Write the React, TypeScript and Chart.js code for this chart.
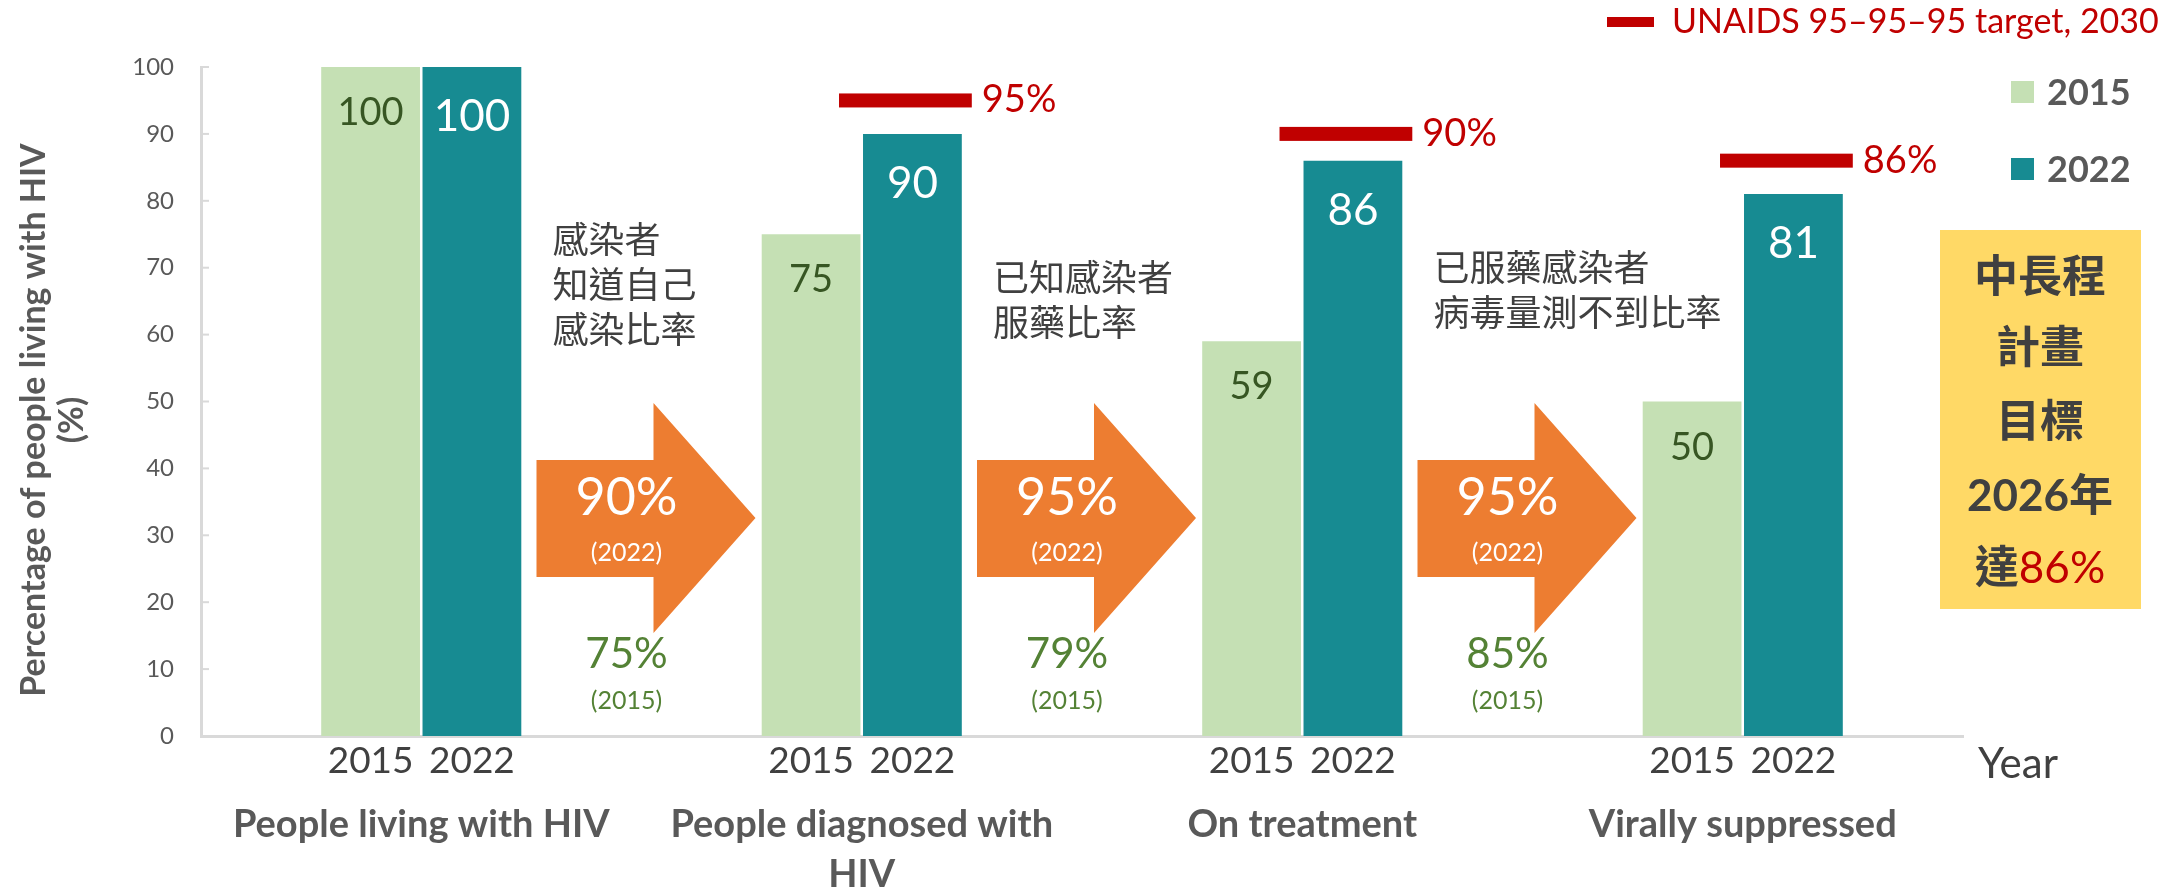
import React, { useEffect, useRef } from "react";
import { Chart, registerables } from "chart.js";

Chart.register(...registerables);

// ---------- data ----------
const categories: string[][] = [
  ["People living with HIV"],
  ["People diagnosed with", "HIV"],
  ["On treatment"],
  ["Virally suppressed"],
];
const years = ["2015", "2022"];
const values2015 = [100, 75, 59, 50];
const values2022 = [100, 90, 86, 81];
const targets2030: (number | null)[] = [null, 95, 90, 86];
const targetLegend = "UNAIDS 95–95–95 target, 2030";
const stepRates2022 = ["90%", "95%", "95%"];
const stepRates2015 = ["75%", "79%", "85%"];
const stepYearNew = "(2022)";
const stepYearOld = "(2015)";
const stepNotes: string[][] = [
  ["感染者", "知道自己", "感染比率"],
  ["已知感染者", "服藥比率"],
  ["已服藥感染者", "病毒量測不到比率"],
];
const goalLines = ["中長程", "計畫", "目標", "2026年"];
const goalLastPrefix = "達";
const goalLastValue = "86%";
const yTitle = ["Percentage of people living with HIV", "(%)"];
const xTitle = "Year";

// ---------- styles ----------
const C2015 = "#C5E0B4";
const C2022 = "#178B92";
const RED = "#C00000";
const ORANGE = "#ED7D31";
const GREEN = "#548235";
const DKGREEN = "#375623";
const DARK = "#404040";
const GRAY = "#595959";
const AXIS = "#D9D9D9";
const LAT = "Lato, 'Noto Sans CJK TC', sans-serif";
const CJK = "'Noto Sans CJK TC', Lato, sans-serif";

function t(
  ctx: CanvasRenderingContext2D,
  s: string,
  x: number,
  y: number,
  font: string,
  color: string,
  align: CanvasTextAlign = "center",
  baseline: CanvasTextBaseline = "alphabetic"
) {
  ctx.font = font;
  ctx.fillStyle = color;
  ctx.textAlign = align;
  ctx.textBaseline = baseline;
  ctx.fillText(s, x, y);
}

const overlay = {
  id: "overlay",
  afterDraw(chart: any) {
    const ctx: CanvasRenderingContext2D = chart.ctx;
    const xs = chart.scales.x;
    const ys = chart.scales.y;
    const area = chart.chartArea;
    ctx.save();

    // inside tick marks on y axis
    ctx.strokeStyle = AXIS;
    ctx.lineWidth = 2;
    ys.ticks.forEach((tk: any) => {
      const py = ys.getPixelForValue(tk.value);
      ctx.beginPath();
      ctx.moveTo(area.left, py);
      ctx.lineTo(area.left + 8, py);
      ctx.stroke();
    });

    // y title (rotated)
    const yMid = 420;
    [45, 83].forEach((bx, k) => {
      ctx.save();
      ctx.translate(bx, yMid);
      ctx.rotate(-Math.PI / 2);
      t(ctx, yTitle[k], 0, 0, `bold 34px ${LAT}`, GRAY);
      ctx.restore();
    });

    const m0 = chart.getDatasetMeta(0);
    const m1 = chart.getDatasetMeta(1);

    // bar value labels
    m0.data.forEach((el: any, i: number) => {
      t(ctx, String(values2015[i]), el.x, el.y + 58, `38px ${LAT}`, DKGREEN);
    });
    m1.data.forEach((el: any, i: number) => {
      t(ctx, String(values2022[i]), el.x, el.y + 64, `44px ${LAT}`, "#FFFFFF");
    });

    // year labels under bars
    [m0, m1].forEach((m: any, d: number) => {
      m.data.forEach((el: any) => {
        t(ctx, years[d], el.x, area.bottom + 37, `37px ${LAT}`, DARK);
      });
    });

    // category labels
    categories.forEach((lines, i) => {
      const cx = xs.getPixelForValue(i);
      lines.forEach((ln, k) => {
        t(ctx, ln, cx, area.bottom + 101 + k * 50, `bold 38px ${LAT}`, GRAY);
      });
    });

    // x title
    t(ctx, xTitle, area.right + 15, area.bottom + 42, `42px ${LAT}`, DARK, "left");

    // target lines
    targets2030.forEach((v, i) => {
      if (v == null) return;
      const el = m1.data[i];
      const half = el.width / 2;
      const py = ys.getPixelForValue(v);
      const x1 = el.x - half - 24;
      const x2 = el.x + half + 10;
      ctx.fillStyle = RED;
      ctx.fillRect(x1, py - 7, x2 - x1, 14);
      t(ctx, `${v}%`, x2 + 10, py + 12, `38px ${LAT}`, RED, "left");
    });

    // arrows between categories
    const noteTops = [240, 278, 268];
    for (let i = 0; i < categories.length - 1; i++) {
      const b = (xs.getPixelForValue(i) + xs.getPixelForValue(i + 1)) / 2;
      ctx.fillStyle = ORANGE;
      ctx.beginPath();
      ctx.moveTo(b - 105, 460);
      ctx.lineTo(b + 12, 460);
      ctx.lineTo(b + 12, 403);
      ctx.lineTo(b + 114, 518);
      ctx.lineTo(b + 12, 633);
      ctx.lineTo(b + 12, 577);
      ctx.lineTo(b - 105, 577);
      ctx.closePath();
      ctx.fill();
      const tx = b - 15;
      t(ctx, stepRates2022[i], tx, 515, `52px ${LAT}`, "#FFFFFF");
      t(ctx, stepYearNew, tx, 561, `25px ${LAT}`, "#FFFFFF");
      t(ctx, stepRates2015[i], tx, 668, `42px ${LAT}`, GREEN);
      t(ctx, stepYearOld, tx, 709, `25px ${LAT}`, GREEN);

      // chinese notes
      stepNotes[i].forEach((ln, k) => {
        t(ctx, ln, b - 89, noteTops[i] + k * 45 + 13, `36px ${CJK}`, DARK, "left");
      });
    }

    // legend
    ctx.fillStyle = RED;
    ctx.fillRect(1607, 17, 47, 10);
    t(ctx, targetLegend, 1672, 33, `34px ${LAT}`, RED, "left");
    ctx.fillStyle = C2015;
    ctx.fillRect(2011, 81, 23, 22);
    t(ctx, years[0], 2047, 105, `bold 36px ${LAT}`, GRAY, "left");
    ctx.fillStyle = C2022;
    ctx.fillRect(2011, 158, 23, 22);
    t(ctx, years[1], 2047, 182, `bold 36px ${LAT}`, GRAY, "left");

    // yellow goal box
    ctx.fillStyle = "#FFD966";
    ctx.fillRect(1940, 230, 201, 379);
    const bx = 2040;
    const centers = [276, 347, 421, 495];
    goalLines.forEach((ln, k) => {
      t(ctx, ln, bx, centers[k] + 16, `bold 44px ${LAT}`, DARK);
    });
    ctx.font = `bold 44px ${CJK}`;
    const w1 = ctx.measureText(goalLastPrefix).width;
    ctx.font = `44px ${LAT}`;
    const w2 = ctx.measureText(goalLastValue).width;
    const sx = bx - (w1 + w2) / 2;
    t(ctx, goalLastPrefix, sx, 567 + 16, `bold 44px ${CJK}`, DARK, "left");
    t(ctx, goalLastValue, sx + w1, 567 + 16, `44px ${LAT}`, RED, "left");

    ctx.restore();
  },
};

export default function App() {
  const ref = useRef<HTMLCanvasElement>(null);
  useEffect(() => {
    const canvas = ref.current;
    if (!canvas) return;
    const chart = new Chart(canvas, {
      type: "bar",
      data: {
        labels: categories.map((c) => c.join(" ")),
        datasets: [
          {
            label: years[0],
            data: values2015,
            backgroundColor: C2015,
            barPercentage: 0.975,
            categoryPercentage: 0.46,
          },
          {
            label: years[1],
            data: values2022,
            backgroundColor: C2022,
            barPercentage: 0.975,
            categoryPercentage: 0.46,
          },
        ],
      },
      options: {
        responsive: false,
        animation: false,
        layout: { padding: { left: 0, right: 212, top: 67, bottom: 0 } },
        plugins: {
          legend: { display: false },
          tooltip: { enabled: false },
        },
        scales: {
          x: {
            grid: { display: false, drawTicks: false },
            border: { color: AXIS, width: 3 },
            ticks: { display: false },
            afterFit: (s: any) => {
              s.height = 155;
            },
          },
          y: {
            min: 0,
            max: 100,
            ticks: {
              stepSize: 10,
              font: { family: LAT, size: 24 },
              color: GRAY,
              padding: 27,
            },
            grid: { display: false, drawTicks: false },
            border: { color: AXIS, width: 3 },
            afterFit: (s: any) => {
              s.width = 201;
            },
          },
        },
      },
      plugins: [overlay],
    } as any);
    return () => chart.destroy();
  }, []);
  return (
    <div
      style={{
        position: "absolute",
        left: 0,
        top: 0,
        width: 2175,
        height: 891,
        background: "#FFFFFF",
      }}
    >
      <canvas ref={ref} width={2175} height={891} style={{ display: "block" }} />
    </div>
  );
}
